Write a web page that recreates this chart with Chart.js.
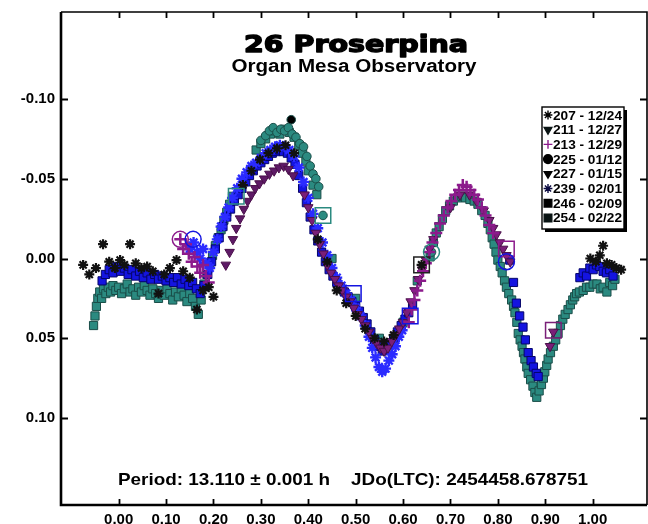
<!DOCTYPE html>
<html>
<head>
<meta charset="utf-8">
<script src="https://cdn.jsdelivr.net/npm/chart.js@4.4.1/dist/chart.umd.min.js"></script>
<style>
  body { margin: 0; background: #fff; }
  canvas { display: block; }
</style>
</head>
<body>
<canvas id="lc" width="648" height="524"></canvas>
<script>
// session labels (legend)
const sessions = ['207 - 12/24', '211 - 12/27', '213 - 12/29', '225 - 01/12',
                  '227 - 01/15', '239 - 02/01', '246 - 02/09', '254 - 02/22'];

const xTicks = [0, 0.1, 0.2, 0.3, 0.4, 0.5, 0.6, 0.7, 0.8, 0.9, 1.0];
const yTicks = [-0.10, -0.05, 0, 0.05, 0.10];

const titleText = '26 Proserpina';
const subTitleText = 'Organ Mesa Observatory';
const infoText = 'Period: 13.110 \u00b1 0.001 h    JDo(LTC): 2454458.678751';

// [phase, mag] per session
const s207 = [[-0.075,0.004],[-0.062,0.010],[-0.048,0.006],[-0.033,-0.009],[-0.020,0.002],[-0.008,0.006],
  [0.003,0.001],[0.012,0.004],[0.024,-0.009],[0.036,0.003],[0.048,0.006],[0.060,0.005],[0.072,0.008],
  [0.084,0.022],[0.096,0.010],[0.108,0.006],[0.122,0.001],[0.136,0.008],[0.150,0.012],[0.165,0.032],
  [0.178,0.020],[0.190,0.018],[0.200,0.024],[0.262,-0.046],[0.280,-0.055],[0.298,-0.062],[0.316,-0.066],
  [0.334,-0.069],[0.352,-0.071],[0.370,-0.066],[0.420,-0.012],[0.440,0.002],[0.460,0.020],[0.480,0.028],
  [0.500,0.036],[0.520,0.044],[0.540,0.050],[0.560,0.052],[0.580,0.048],[0.639,0.004],[0.995,0.000],
  [1.007,0.002],[1.015,-0.002],[1.022,-0.008],[1.030,0.003],[1.040,0.004],[1.050,0.006],[1.060,0.007]];

const s211 = [[0.226,0.004],[0.234,-0.004],[0.241,-0.012],[0.248,-0.019],[0.256,-0.025],[0.264,-0.031],
  [0.272,-0.036],[0.280,-0.040],[0.288,-0.044],[0.297,-0.047],[0.307,-0.050],[0.318,-0.053],[0.328,-0.055],
  [0.338,-0.057],[0.348,-0.058],[0.358,-0.056],[0.368,-0.052]];

const s213 = [[0.130,-0.012],[0.136,-0.006],[0.142,-0.009],[0.148,-0.003],[0.154,0.002],[0.160,-0.001],
  [0.166,0.005],[0.172,0.009],[0.178,0.004],[0.184,0.011],[0.190,0.015],[0.612,0.040],[0.618,0.032],
  [0.624,0.026],[0.630,0.020],[0.636,0.014],[0.642,0.008],[0.648,0.003],[0.655,-0.004],[0.662,-0.010],
  [0.670,-0.016],[0.678,-0.022],[0.686,-0.027],[0.694,-0.032],[0.702,-0.036],[0.710,-0.040],[0.718,-0.043],
  [0.726,-0.046],[0.734,-0.045],[0.742,-0.043],[0.750,-0.040],[0.758,-0.037],[0.766,-0.032],[0.774,-0.027],
  [0.782,-0.021],[0.790,-0.016]];

const s225 = [[0.364,-0.087],[0.300,-0.074],[0.310,-0.077],[0.318,-0.080],[0.326,-0.082],[0.334,-0.079],
  [0.342,-0.081],[0.350,-0.080],[0.358,-0.082],[0.366,-0.078],[0.374,-0.076],[0.382,-0.072],[0.390,-0.070],
  [0.397,-0.064],[0.404,-0.058],[0.410,-0.053],[0.416,-0.050],[0.422,-0.045],[0.431,-0.027],[0.660,-0.004]];

const s227 = [[0.392,-0.040],[0.400,-0.032],[0.408,-0.024],[0.416,-0.016],[0.424,-0.009],[0.432,-0.003],
  [0.440,0.004],[0.448,0.009],[0.456,0.013],[0.464,0.017],[0.472,0.020],[0.480,0.024],[0.488,0.027],
  [0.496,0.031],[0.504,0.035],[0.512,0.038],[0.520,0.042],[0.528,0.046],[0.536,0.050],[0.544,0.053],
  [0.552,0.056],[0.560,0.058],[0.568,0.056],[0.576,0.052],[0.584,0.048],[0.592,0.044],[0.600,0.040],
  [0.608,0.034],[0.616,0.027],[0.624,0.020],[0.632,0.013],[0.640,0.007],[0.648,0.001],[0.656,-0.006],
  [0.664,-0.012],[0.700,-0.032],[0.720,-0.040],[0.740,-0.040],[0.755,-0.036],[0.770,-0.030],[0.782,-0.024],
  [0.790,-0.019],[0.797,-0.015],[0.804,-0.010],[0.811,-0.006],[0.818,-0.002],[0.826,0.002],[0.910,0.055],
  [0.917,0.046]];

const s239 = [[0.150,-0.006],[0.158,-0.010],[0.165,-0.004],[0.172,0.000],[0.178,-0.006],[0.185,0.003],
  [0.192,0.006],[0.200,-0.004],[0.208,-0.012],[0.216,-0.020],[0.224,-0.026],[0.232,-0.032],[0.240,-0.038],
  [0.250,-0.044],[0.260,-0.050],[0.270,-0.054],[0.280,-0.058],[0.290,-0.060],[0.300,-0.063],[0.310,-0.066],
  [0.320,-0.068],[0.330,-0.070],[0.340,-0.071],[0.350,-0.070],[0.360,-0.068],[0.370,-0.064],[0.380,-0.057],
  [0.390,-0.048],[0.400,-0.038],[0.410,-0.028],[0.420,-0.019],[0.430,-0.010],[0.440,-0.002],[0.450,0.006],
  [0.460,0.012],[0.470,0.017],[0.480,0.022],[0.490,0.026],[0.500,0.031],[0.510,0.036],[0.520,0.042],
  [0.528,0.049],[0.535,0.056],[0.542,0.062],[0.549,0.068],[0.556,0.071],[0.563,0.069],[0.570,0.064],
  [0.577,0.060],[0.584,0.055],[0.591,0.049],[0.598,0.045]];

const s246 = [[-0.035,0.014],[-0.028,0.010],[-0.020,0.007],[-0.012,0.009],[-0.004,0.005],[0.004,0.008],
  [0.012,0.006],[0.020,0.010],[0.028,0.007],[0.036,0.011],[0.044,0.008],[0.052,0.012],[0.060,0.009],
  [0.068,0.013],[0.076,0.010],[0.084,0.013],[0.092,0.011],[0.100,0.014],[0.108,0.012],[0.116,0.015],
  [0.124,0.012],[0.132,0.016],[0.140,0.013],[0.148,0.017],[0.156,0.015],[0.164,0.019],[0.172,0.022],
  [0.180,0.017],[0.188,0.010],[0.196,0.002],[0.204,-0.006],[0.212,-0.013],[0.220,-0.020],[0.228,-0.026],
  [0.236,-0.031],[0.244,-0.036],[0.252,-0.040],[0.260,-0.044],[0.268,-0.048],[0.276,-0.052],[0.284,-0.055],
  [0.292,-0.058],[0.300,-0.060],[0.308,-0.062],[0.316,-0.064],[0.324,-0.066],[0.332,-0.067],[0.340,-0.068],
  [0.348,-0.067],[0.356,-0.066],[0.364,-0.063],[0.372,-0.059],[0.380,-0.052],[0.388,-0.044],[0.396,-0.035],
  [0.404,-0.026],[0.412,-0.018],[0.420,-0.011],[0.428,-0.004],[0.436,0.002],[0.444,0.007],[0.452,0.011],
  [0.460,0.015],[0.468,0.018],[0.476,0.021],[0.484,0.024],[0.492,0.027],[0.500,0.030],[0.508,0.033],
  [0.516,0.037],[0.524,0.041],[0.532,0.046],[0.540,0.051],[0.548,0.055],[0.556,0.058],[0.564,0.057],
  [0.572,0.054],[0.580,0.050],[0.588,0.046],[0.596,0.042],[0.604,0.038],[0.612,0.034],[0.620,0.029],
  [0.825,0.001],[0.833,0.015],[0.839,0.028],[0.846,0.036],[0.853,0.043],[0.858,0.051],[0.864,0.059],
  [0.870,0.064],[0.875,0.068],[0.881,0.072],[0.885,0.074],[0.973,0.012],[0.980,0.009],[0.987,0.011],
  [0.994,0.006],[1.001,0.007],[1.008,0.004],[1.015,0.005],[1.022,0.008],[1.029,0.009],[1.036,0.007],
  [1.043,0.011]];

const s254 = [[-0.053,0.042],[-0.050,0.036],[-0.047,0.030],[-0.044,0.025],[-0.040,0.021],[-0.036,0.025],
  [-0.032,0.019],[-0.027,0.022],[-0.022,0.018],[-0.017,0.021],[-0.012,0.017],[-0.006,0.020],[0.000,0.018],
  [0.006,0.022],[0.012,0.019],[0.018,0.016],[0.024,0.021],[0.030,0.019],[0.036,0.023],[0.042,0.018],
  [0.048,0.021],[0.054,0.017],[0.060,0.020],[0.066,0.023],[0.072,0.019],[0.078,0.022],[0.084,0.025],
  [0.090,0.020],[0.096,0.023],[0.102,0.019],[0.108,0.022],[0.114,0.026],[0.120,0.021],[0.126,0.024],
  [0.132,0.019],[0.138,0.023],[0.144,0.027],[0.150,0.022],[0.156,0.025],[0.162,0.030],[0.168,0.035],
  [0.174,0.026],[0.180,0.016],[0.186,0.010],[0.192,0.004],[0.198,-0.002],[0.204,-0.008],[0.210,-0.013],
  [0.216,-0.018],[0.222,-0.024],[0.228,-0.029],[0.234,-0.034],[0.240,-0.039],[0.290,-0.068],[0.300,-0.072],
  [0.310,-0.075],[0.320,-0.078],[0.330,-0.080],[0.340,-0.078],[0.350,-0.081],[0.360,-0.079],[0.370,-0.076],
  [0.380,-0.071],[0.388,-0.066],[0.395,-0.061],[0.400,-0.055],[0.410,-0.046],[0.418,-0.040],[0.450,0.000],
  [0.500,0.025],[0.550,0.050],[0.600,0.040],[0.630,0.014],[0.657,-0.001],[0.664,-0.010],[0.670,-0.016],
  [0.676,-0.020],[0.683,-0.025],[0.690,-0.030],[0.698,-0.033],[0.706,-0.036],[0.715,-0.038],[0.724,-0.039],
  [0.732,-0.038],[0.741,-0.037],[0.750,-0.036],[0.758,-0.034],[0.766,-0.030],[0.773,-0.027],[0.779,-0.022],
  [0.784,-0.018],[0.788,-0.013],[0.792,-0.009],[0.796,-0.004],[0.800,0.001],[0.805,0.005],[0.809,0.009],
  [0.814,0.014],[0.818,0.018],[0.823,0.022],[0.829,0.026],[0.833,0.030],[0.836,0.034],[0.840,0.040],
  [0.843,0.047],[0.847,0.051],[0.851,0.055],[0.854,0.059],[0.857,0.063],[0.861,0.068],[0.864,0.072],
  [0.869,0.076],[0.874,0.080],[0.878,0.084],[0.882,0.087],[0.887,0.083],[0.892,0.079],[0.896,0.075],
  [0.899,0.071],[0.903,0.067],[0.906,0.063],[0.911,0.059],[0.917,0.055],[0.922,0.051],[0.927,0.047],
  [0.932,0.042],[0.937,0.038],[0.942,0.035],[0.948,0.032],[0.953,0.029],[0.958,0.026],[0.962,0.024],
  [0.966,0.022],[0.972,0.021],[0.980,0.020],[0.987,0.018],[0.994,0.018],[1.001,0.016],[1.009,0.016],
  [1.016,0.019],[1.022,0.018],[1.030,0.021],[1.036,0.015],[1.042,0.017],[1.047,0.013]];

// first-point markers of the sessions (big hollow symbols)
const startPhase = [0.130, 0.157, 0.248, 0.431, 0.495, 0.615, 0.639, 0.660, 0.818, 0.818, 0.917];
const startMag = [-0.012, -0.012, -0.039, -0.027, 0.022, 0.036, 0.004, -0.004, -0.006, 0.002, 0.045];

const FONT = '"Liberation Sans", Arial, sans-serif';
const TEAL = '#2b8a80', TEAL_DK = '#1a4d48';
const BLUE = '#1414e0', BLUE_DK = '#05056a';
const STARBLUE = '#2b2bff';
const PURPLE = '#7a1f78', PURPLE_DK = '#4a0f4a';
const CROSS = '#8c1a8c';

const pts = arr => arr.map(p => ({ x: p[0], y: p[1] }));

const datasets = [
  { label: sessions[0], data: pts(s207), pointStyle: 'star', radius: 5, borderWidth: 2.2,
    borderColor: '#111', backgroundColor: '#111', order: 1, legendColor: '#000' },
  { label: sessions[1], data: pts(s211), pointStyle: 'triangle', rotation: 180, radius: 5.5, borderWidth: 1,
    borderColor: PURPLE_DK, backgroundColor: '#5e1a66', order: 3, legendColor: '#0b1515' },
  { label: sessions[2], data: pts(s213), pointStyle: 'cross', radius: 6, borderWidth: 2.5,
    borderColor: CROSS, backgroundColor: CROSS, order: 2, legendColor: CROSS },
  { label: sessions[3], data: pts(s225), pointStyle: 'circle', radius: 4.3, borderWidth: 1,
    borderColor: TEAL_DK, backgroundColor: ctx => ctx.dataIndex === 0 ? '#000' : TEAL,
    order: 7, legendColor: '#000' },
  { label: sessions[4], data: pts(s227), pointStyle: 'triangle', rotation: 180, radius: 5.5, borderWidth: 1,
    borderColor: PURPLE_DK, backgroundColor: PURPLE, order: 4, legendColor: '#000' },
  { label: sessions[5], data: pts(s239), pointStyle: 'star', radius: 5.5, borderWidth: 2.4,
    borderColor: STARBLUE, backgroundColor: STARBLUE, order: 5, legendColor: '#0a0a40' },
  { label: sessions[6], data: pts(s246), pointStyle: 'rect', radius: 5.8, borderWidth: 1,
    borderColor: BLUE_DK, backgroundColor: BLUE, order: 6, legendColor: '#000' },
  { label: sessions[7], data: pts(s254), pointStyle: 'rect', radius: 5.8, borderWidth: 1,
    borderColor: TEAL_DK, backgroundColor: TEAL, order: 8, legendColor: '#081212' },
  { label: 'start', data: startPhase.map((p, i) => ({ x: p, y: startMag[i] })),
    pointStyle: ['circle', 'circle', 'rect', 'rect', 'rect', 'rect', 'rect', 'circle', 'rect', 'circle', 'rect'],
    radius: [8, 8, 11, 11, 11, 11, 11, 8, 11, 8, 11], borderWidth: 1.5,
    borderColor: [CROSS, BLUE, TEAL, TEAL, BLUE, BLUE, '#222', TEAL, CROSS, BLUE, PURPLE],
    backgroundColor: 'rgba(0,0,0,0)', order: 0, skipLegend: true }
];

function fitText(ctx, text, cx, y, font, width, align, stroke) {
  ctx.font = font;
  const w = ctx.measureText(text).width;
  ctx.save();
  ctx.translate(cx, y);
  ctx.scale(width / w, 1);
  ctx.textAlign = align || 'center';
  ctx.textBaseline = 'alphabetic';
  ctx.fillText(text, 0, 0);
  if (stroke) {
    ctx.lineWidth = stroke;
    ctx.lineJoin = 'round';
    ctx.strokeText(text, 0, 0);
  }
  ctx.restore();
}

// frame, inner ticks, texts and the boxed legend
const decor = {
  id: 'decor',
  afterDraw(chart) {
    const ctx = chart.ctx;
    const a = chart.chartArea;
    const xs = chart.scales.x, ys = chart.scales.y;
    ctx.save();
    ctx.strokeStyle = '#000';
    // frame
    ctx.lineWidth = 2.6;
    ctx.beginPath();
    ctx.moveTo(a.left, a.top); ctx.lineTo(a.left, a.bottom); ctx.lineTo(a.right, a.bottom);
    ctx.stroke();
    ctx.lineWidth = 1.6;
    ctx.beginPath();
    ctx.moveTo(a.left, a.top); ctx.lineTo(a.right, a.top); ctx.lineTo(a.right, a.bottom);
    ctx.stroke();
    // ticks, pointing inwards on all four sides
    ctx.lineWidth = 1.8;
    xTicks.forEach(v => {
      const px = Math.round(xs.getPixelForValue(v)) + 0.5;
      ctx.beginPath();
      ctx.moveTo(px, a.bottom); ctx.lineTo(px, a.bottom - 6);
      ctx.moveTo(px, a.top); ctx.lineTo(px, a.top + 6);
      ctx.stroke();
    });
    yTicks.forEach(v => {
      const py = Math.round(ys.getPixelForValue(v)) + 0.5;
      ctx.beginPath();
      ctx.moveTo(a.left, py); ctx.lineTo(a.left + 7, py);
      ctx.moveTo(a.right, py); ctx.lineTo(a.right - 7, py);
      ctx.stroke();
    });
    // texts
    const cx = (a.left + a.right) / 2;
    ctx.fillStyle = '#000';
    fitText(ctx, titleText, cx + 2, a.top + 40, 'bold 23px "DejaVu Sans", sans-serif', 224, 'center', 1.4);
    fitText(ctx, subTitleText, cx, a.top + 60, 'bold 18px ' + FONT, 245);
    fitText(ctx, infoText, cx - 1, a.bottom - 20, 'bold 17px ' + FONT, 470);

    // legend box with drop shadow
    const lx = a.right - 105, ly = a.top + 95, lw = 82, lh = 122;
    ctx.fillStyle = '#000';
    ctx.fillRect(lx + 3, ly + 3, lw, lh);
    ctx.fillStyle = '#fff';
    ctx.fillRect(lx, ly, lw, lh);
    ctx.lineWidth = 1.4;
    ctx.strokeRect(lx, ly, lw, lh);
    const rowH = 14.7;
    chart.data.datasets.filter(d => !d.skipLegend).forEach((d, i) => {
      const y = ly + 8 + i * rowH;
      ctx.save();
      ctx.fillStyle = d.legendColor;
      ctx.strokeStyle = d.legendColor;
      Chart.helpers.drawPoint(ctx, {
        pointStyle: d.pointStyle, rotation: d.rotation || 0,
        radius: d.pointStyle === 'rect' ? 5.4 : 4.4,
        borderWidth: d.pointStyle === 'star' || d.pointStyle === 'cross' ? 2.2 : 1
      }, lx + 6, y);
      ctx.restore();
      ctx.fillStyle = '#000';
      fitText(ctx, d.label, lx + 11, y + 4.5, 'bold 12px ' + FONT, 69, 'left');
    });
    ctx.restore();
  }
};

// no scale padding, so the plot frame lands where the reference has it
const noPad = s => { s.paddingTop = 0; s.paddingBottom = 0; s.paddingLeft = 0; s.paddingRight = 0; };

new Chart(document.getElementById('lc'), {
  type: 'scatter',
  data: { datasets },
  options: {
    responsive: false,
    animation: false,
    layout: { autoPadding: false, padding: { top: 12, right: 1, left: 0, bottom: 0 } },
    plugins: { legend: { display: false }, tooltip: { enabled: false } },
    scales: {
      x: {
        type: 'linear', min: -0.1217, max: 1.1146,
        grid: { display: false, drawTicks: false, tickLength: 0 }, border: { display: false },
        afterFit: s => { s.height = 19; noPad(s); },
        afterBuildTicks: s => { s.ticks = xTicks.map(v => ({ value: v })); },
        ticks: { padding: 6, color: '#000', font: { family: FONT, size: 15, weight: 'bold' },
                 maxRotation: 0, autoSkip: false, callback: v => v.toFixed(2) }
      },
      y: {
        type: 'linear', min: -0.1545, max: 0.1545, reverse: true,
        grid: { display: false, drawTicks: false, tickLength: 0 }, border: { display: false },
        afterFit: s => { s.width = 61; noPad(s); },
        afterBuildTicks: s => { s.ticks = yTicks.map(v => ({ value: v })); },
        ticks: { padding: 6, color: '#000', font: { family: FONT, size: 15, weight: 'bold' },
                 callback: v => v.toFixed(2) }
      }
    }
  },
  plugins: [decor]
});
</script>
</body>
</html>
